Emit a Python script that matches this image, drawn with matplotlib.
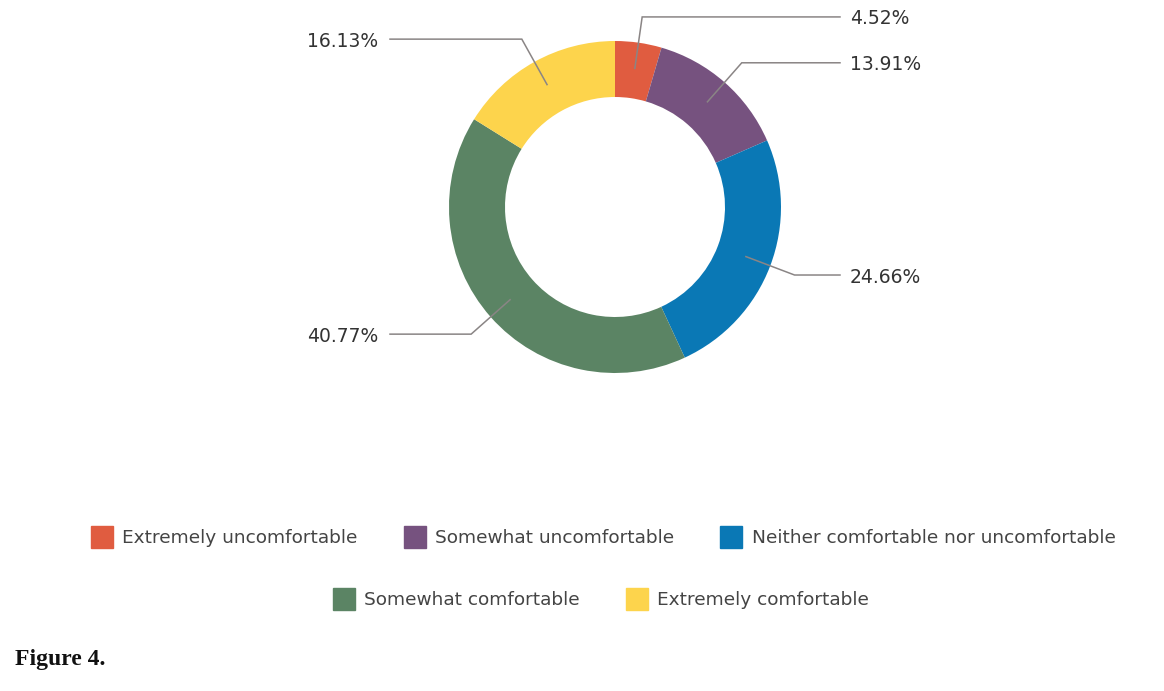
import numpy as np
import matplotlib
matplotlib.use('Agg')
import matplotlib.pyplot as plt
from matplotlib.lines import Line2D

# ─────────────────────────────────────────────
#  Data
# ─────────────────────────────────────────────
categories = ["Extremely uncomfortable", "Somewhat uncomfortable",
              "Neither comfortable nor uncomfortable",
              "Somewhat comfortable", "Extremely comfortable"]
shares = [4.52, 13.91, 24.66, 40.77, 16.13]
colors = ["#E05C40", "#76527F", "#0A78B5", "#5B8464", "#FDD44C"]

W, H = 1164, 691
CX, CY = 615, H - 207          # donut centre (pixel coords, y up)
R_OUT, R_IN = 166, 110

fig = plt.figure(figsize=(W / 100, H / 100), dpi=100)
ax = fig.add_axes([0, 0, 1, 1])
ax.set_xlim(0, W)
ax.set_ylim(0, H)
ax.set_aspect('equal')
ax.axis('off')

wedges, _ = ax.pie(shares, colors=colors, startangle=90, counterclock=False,
                   center=(CX, CY), radius=R_OUT,
                   wedgeprops=dict(width=R_OUT - R_IN, linewidth=0))
ax.set_xlim(0, W)
ax.set_ylim(0, H)

# leader lines + percentage labels
for w, val in zip(wedges, shares):
    ang = np.deg2rad((w.theta1 + w.theta2) / 2)
    c, s = np.cos(ang), np.sin(ang)
    x0, y0 = CX + 140 * c, CY + 140 * s
    x1, y1 = CX + 192 * c, CY + 192 * s
    right = c > 0
    x2 = 840 if right else 390
    ax.plot([x0, x1, x2], [y0, y1, y1], color='#8a8585', lw=1.1,
            solid_joinstyle='miter')
    ax.text(x2 + 10 if right else x2 - 12, y1 - 2, f"{val:.2f}%",
            ha='left' if right else 'right', va='center',
            fontsize=13.5, color='#333333', family='DejaVu Sans')

# legend in two centred rows
handles = [Line2D([], [], marker='s', linestyle='none', markersize=16,
                  markerfacecolor=col, markeredgecolor=col)
           for col in colors]
leg_kw = dict(frameon=False, handletextpad=0.5, columnspacing=2.5,
              handlelength=1.2, borderaxespad=0, borderpad=0,
              prop={'family': 'DejaVu Sans', 'size': 13.3})
leg1 = ax.legend(handles[:3], categories[:3], ncol=3, loc='center',
                 bbox_to_anchor=(603 / W, 1 - 538 / H), **leg_kw)
for txt in leg1.get_texts():
    txt.set_color('#444444')
ax.add_artist(leg1)
leg2 = ax.legend(handles[3:], categories[3:], ncol=2, loc='center',
                 bbox_to_anchor=(601 / W, 1 - 600 / H), **leg_kw)
for txt in leg2.get_texts():
    txt.set_color('#444444')

# caption
ax.text(15, H - 660, "Figure 4.", ha='left', va='center', fontsize=17,
        fontweight='bold', family='Liberation Serif', color='#111111')

fig.savefig("out.png", dpi=100)
plt.close(fig)
